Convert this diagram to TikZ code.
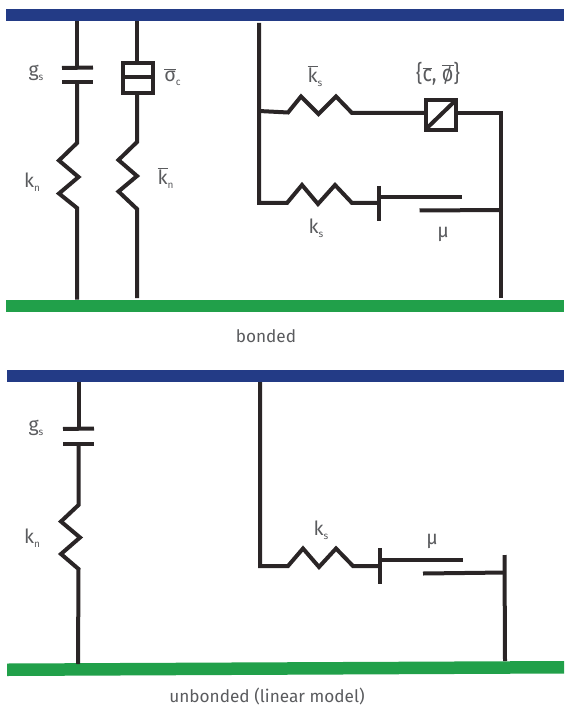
\documentclass[tikz,border=0pt]{standalone}
\usepackage{fontspec}
\usepackage{graphicx}
\setmainfont{Fira Sans}[Scale=1]
\definecolor{barblue}{HTML}{233B86}
\definecolor{bargreen}{HTML}{21A04A}
\definecolor{wire}{HTML}{2A2526}
\definecolor{labelgray}{HTML}{5A5B5E}
\newcommand{\sbs}[1]{\raisebox{-0.4ex}{\fontsize{10}{11}\selectfont #1}}
\newcommand{\ovl}[1]{$\overline{\hbox{#1}}$}
\tikzset{
  wireline/.style={draw=wire,line width=4pt,line join=miter},
  lbl/.style={text=labelgray,font=\fontsize{19.5}{22}\selectfont,inner sep=0pt,anchor=center},
  capt/.style={text=labelgray,font=\fontsize{17.2}{20}\selectfont,inner sep=0pt,anchor=center},
}
\begin{document}
\begin{tikzpicture}[x=1pt,y=-1pt]
\useasboundingbox (0,0) rectangle (564,708);
% plates
\fill[barblue] (6,9) rectangle (564,21);
\fill[bargreen] (6,299.5) rectangle (564,311.5);
\fill[barblue] (7,369.5) rectangle (564,382);
\fill[bargreen] (7,663.5) -- (564,661) -- (564,673.5) -- (7,676) -- cycle;

% bonded: left chain
\draw[wireline] (77,21) -- (77,68);
\draw[wireline] (62,68) -- (93,67.5);
\draw[wireline] (62,82.5) -- (93,82.5);
\draw[wireline] (77,83) -- (77,143) -- (59,160.5) -- (78.5,177) -- (59,193.5) -- (77,208) -- (77,299.5);
% bonded: second chain
\draw[wireline] (137,21) -- (137,62);
\draw[wireline] (122.5,63.5) rectangle (152.5,93);
\draw[wireline] (122.5,77.5) -- (152.5,77.5);
\draw[wireline] (137,93) -- (137,142) -- (118.5,160) -- (137,176) -- (118.5,191.5) -- (137,209) -- (137,298);
% bonded: right
\draw[wireline] (259,23) -- (259,203) -- (287,203) -- (302,185) -- (318,204) -- (335,185) -- (352,203) -- (379,203);
\draw[wireline] (259,111) -- (288,112.5) -- (301,96.5) -- (318.5,114) -- (336,96.5) -- (352,113) -- (425,113);
\draw[wireline] (425.5,100.5) rectangle (456,130);
\draw[wireline] (426,129) -- (456,100);
\draw[wireline] (456,113) -- (501,113) -- (501,298);
\draw[wireline] (379,186) -- (379,221);
\draw[wireline] (379,197) -- (462,197);
\draw[wireline] (419.5,210.5) -- (501,210);

% unbonded: left chain
\draw[wireline] (78.5,382) -- (78.5,429);
\draw[wireline] (63,429) -- (94,428.5);
\draw[wireline] (63,443.5) -- (94,443.5);
\draw[wireline] (78.5,444) -- (78.5,505) -- (61,521.5) -- (80,537.5) -- (61,554) -- (78.5,569) -- (78,664);
% unbonded: right
\draw[wireline] (260,382) -- (260,566) -- (288,566) -- (303,548.5) -- (319,567) -- (336,548.5) -- (353,566) -- (380,566);
\draw[wireline] (380,548) -- (380,584);
\draw[wireline] (380,560) -- (463,560);
\draw[wireline] (423,573.5) -- (505,572.5);
\draw[wireline] (504.5,555) -- (505,661);

% labels
\node[lbl] (gsa) at (36,73) {g\sbs{s}};
\node[lbl] (kna) at (32,182) {k\sbs{n}};
\node[lbl] (sca) at (172.5,77) {\ovl{σ}\sbs{c}};
\node[lbl] (knb) at (165.5,178) {\ovl{k}\sbs{n}};
\node[lbl] (ksb) at (315,76) {\ovl{k}\sbs{s}};
\node[lbl] (cp) at (438,74) {\scalebox{0.86}[1]{\fontsize{23}{26}\selectfont\{\ovl{c}, \ovl{ø}\}}};
\node[lbl] (ksa) at (316,228) {k\sbs{s}};
\node[lbl] (mua) at (443,234) {μ};
\node[capt] (bonded) at (266,336) {bonded};
\node[lbl] (gsc) at (36,428) {g\sbs{s}};
\node[lbl] (knc) at (32,538) {k\sbs{n}};
\node[lbl] (ksc) at (321,530) {k\sbs{s}};
\node[lbl] (muc) at (432,541) {μ};
\node[capt] (unbonded) at (267,696) {unbonded (linear model)};
\end{tikzpicture}
\end{document}
